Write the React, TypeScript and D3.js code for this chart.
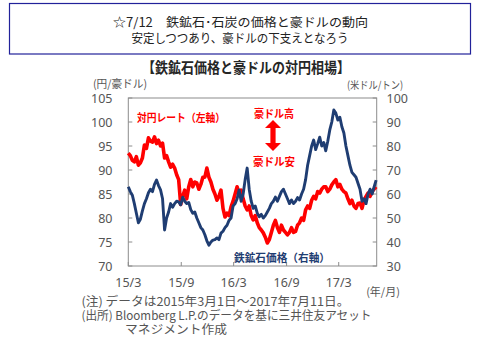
import React from "react";
import * as d3 from "d3";

const startDate = new Date(2015, 2, 1);
const endDate = new Date(2017, 6, 11);

// AUD/JPY (left axis), weekly readings from 2015-03-01
const audJpy = [
  93.5, 93.0, 92.0, 91.7, 92.8, 91.0, 91.5, 92.5, 95.2, 94.5,
  96.7, 96.0, 95.8, 96.9, 95.5, 96.2, 95.0, 95.6, 92.5, 93.0,
  91.7, 90.6, 91.2, 90.4, 89.0, 88.0, 82.8, 84.5, 85.8, 84.0,
  86.5, 88.0, 86.5, 87.5, 87.3, 86.0, 87.0, 88.5, 88.5, 90.4,
  88.5, 87.5, 86.0, 85.0, 83.7, 84.5, 85.8, 82.0, 80.2, 81.0,
  80.5, 82.3, 83.5, 85.0, 86.5, 85.0, 85.8, 84.0, 82.5, 81.7,
  82.5, 80.5, 79.6, 80.5, 79.0, 78.0, 77.5, 76.9, 76.0, 74.8,
  75.5, 77.0, 78.5, 79.5, 78.0, 77.0, 78.5, 77.5, 77.0, 76.5,
  77.0, 78.0, 77.0, 77.2, 78.5, 79.0, 80.0, 79.5, 81.7, 82.5,
  82.0, 83.7, 84.5, 84.0, 85.5, 85.2, 86.0, 86.5, 86.5, 85.5,
  86.0, 86.9, 87.5, 88.0, 86.5, 87.0, 86.0, 85.5, 85.2, 84.0,
  83.0, 83.7, 82.5, 82.0, 83.0, 83.1, 82.0, 83.7, 84.5, 85.2,
  84.5, 85.5, 86.0, 86.5,
];

// Iron ore price USD/t (right axis), weekly readings from 2015-03-01
const ironOre = [
  63, 61, 59.5, 56, 52, 48, 49.5, 53, 56, 58,
  60.5, 62, 61, 64, 65.8, 63.5, 61.7, 58, 45, 50,
  52.5, 56, 54.5, 56, 57, 56.7, 55.5, 58.7, 57, 56,
  56.5, 53.5, 52, 52.5, 50, 48, 46, 45, 43, 40.5,
  38.7, 40, 40.8, 41, 41.7, 41, 43.7, 44.5, 46, 47,
  49, 50, 55, 56, 58, 61.7, 57, 60, 66, 70.8,
  62, 57, 54, 55, 52, 50.5, 51.5, 50, 51, 52.5,
  54, 56, 57, 58.7, 57, 59, 61, 62, 60, 58,
  56, 57.5, 56, 57, 58.5, 57.5, 60, 62, 66, 72,
  76, 80, 82.5, 78.5, 81, 83.7, 80, 81.5, 78, 82,
  86.7, 90, 95, 93.7, 90.8, 92, 88, 85.4, 80, 76,
  72, 69, 68, 67, 64.5, 62, 57, 58, 56, 60,
  62, 60, 63, 65.8,
];

const leftTicks = [70, 75, 80, 85, 90, 95, 100, 105];
const rightTicks = [30, 40, 50, 60, 70, 80, 90, 100];
const xTickDates = [
  new Date(2015, 2, 1),
  new Date(2015, 8, 1),
  new Date(2016, 2, 1),
  new Date(2016, 8, 1),
  new Date(2017, 2, 1),
];
const xTickLabels = ["15/3", "15/9", "16/3", "16/9", "17/3"];

const RED = "#ff0000";
const NAVY = "#1f3d72";
const GRAY = "#555555";
const JP = "'Noto Sans CJK JP', 'Noto Sans', sans-serif";
const NUM = "'Noto Sans', 'Liberation Sans', sans-serif";

export default function App() {
  const W = 482;
  const H = 341;
  const x0 = 128.3;
  const x1 = 376.7;
  const y0 = 98;
  const y1 = 266;

  const x = d3.scaleTime().domain([startDate, endDate]).range([x0, x1]);
  const yL = d3.scaleLinear().domain([70, 105]).range([y1, y0]);
  const yR = d3.scaleLinear().domain([30, 100]).range([y1, y0]);

  const dates = audJpy.map((_, i) => d3.timeDay.offset(startDate, i * 7));

  const redLine = d3
    .line<number>()
    .x((_, i) => x(dates[i]))
    .y((d) => yL(d))
    .curve(d3.curveLinear)(audJpy) as string;

  const navyLine = d3
    .line<number>()
    .x((_, i) => x(dates[i]))
    .y((d) => yR(d))
    .curve(d3.curveLinear)(ironOre) as string;

  // double arrow
  const ax = 273;
  const ayTop = 120;
  const ayBot = 151;
  const hw = 8;
  const hh = 8;
  const sw = 2.6;
  const arrow = [
    [ax, ayTop],
    [ax + hw, ayTop + hh],
    [ax + sw, ayTop + hh],
    [ax + sw, ayBot - hh],
    [ax + hw, ayBot - hh],
    [ax, ayBot],
    [ax - hw, ayBot - hh],
    [ax - sw, ayBot - hh],
    [ax - sw, ayTop + hh],
    [ax - hw, ayTop + hh],
  ]
    .map((p) => p.join(","))
    .join(" ");

  return (
    <svg
      width={W}
      height={H}
      style={{ position: "fixed", left: 0, top: 0, background: "#fff" }}
    >
      <rect x={0} y={0} width={W} height={H} fill="#fff" />
      {/* title box */}
      <rect
        x={9.5}
        y={3.5}
        width={461}
        height={50.5}
        fill="#fff"
        stroke="#22229a"
        strokeWidth={1.2}
      />
      <text
        x={240.5}
        y={21.3}
        textAnchor="middle"
        dominantBaseline="central"
        fontFamily={JP}
        fontSize={12.5}
        fill="#222"
        textLength={255}
        lengthAdjust="spacingAndGlyphs"
      >
        ☆7/12　鉄鉱石･石炭の価格と豪ドルの動向
      </text>
      <text
        x={240}
        y={37.2}
        textAnchor="middle"
        dominantBaseline="central"
        fontFamily={JP}
        fontSize={12.5}
        fill="#222"
        textLength={217}
        lengthAdjust="spacingAndGlyphs"
      >
        安定しつつあり、豪ドルの下支えとなろう
      </text>

      {/* chart title */}
      <text
        x={246}
        y={66.5}
        textAnchor="middle"
        dominantBaseline="central"
        fontFamily={JP}
        fontSize={14.5}
        fontWeight="bold"
        fill="#262626"
        textLength={208}
        lengthAdjust="spacingAndGlyphs"
      >
        【鉄鉱石価格と豪ドルの対円相場】
      </text>

      <text
        x={93}
        y={83}
        dominantBaseline="central"
        fontFamily={JP}
        fontSize={11}
        fill={GRAY}
        textLength={54}
        lengthAdjust="spacingAndGlyphs"
      >
        (円/豪ドル)
      </text>
      <text
        x={347}
        y={84.5}
        dominantBaseline="central"
        fontFamily={JP}
        fontSize={10.5}
        fill={GRAY}
        textLength={56}
        lengthAdjust="spacingAndGlyphs"
      >
        (米ドル/トン)
      </text>

      {/* plot frame */}
      <rect
        x={x0}
        y={y0}
        width={x1 - x0}
        height={y1 - y0}
        fill="none"
        stroke="#8c8c8c"
        strokeWidth={1}
      />
      {leftTicks.map((t) => (
        <g key={"l" + t}>
          <line x1={x0} x2={x0 + 4} y1={yL(t)} y2={yL(t)} stroke="#8c8c8c" />
          <text
            x={112.5}
            y={yL(t)}
            textAnchor="end"
            dominantBaseline="central"
            fontFamily={NUM}
            fontSize={12.5}
            fill={GRAY}
          >
            {t}
          </text>
        </g>
      ))}
      {rightTicks.map((t) => (
        <g key={"r" + t}>
          <line x1={x1 - 4} x2={x1} y1={yR(t)} y2={yR(t)} stroke="#8c8c8c" />
          <text
            x={386.5}
            y={yR(t)}
            textAnchor="start"
            dominantBaseline="central"
            fontFamily={NUM}
            fontSize={12.5}
            fill={GRAY}
          >
            {t}
          </text>
        </g>
      ))}
      {xTickDates.map((d, i) => (
        <g key={"x" + i}>
          <line
            x1={x(d)}
            x2={x(d)}
            y1={y1}
            y2={y1 - 4}
            stroke="#8c8c8c"
          />
          <text
            x={x(d)}
            y={282}
            textAnchor="middle"
            dominantBaseline="central"
            fontFamily={NUM}
            fontSize={12.5}
            fill={GRAY}
          >
            {xTickLabels[i]}
          </text>
        </g>
      ))}
      <text
        x={383}
        y={291}
        textAnchor="middle"
        dominantBaseline="central"
        fontFamily={JP}
        fontSize={11}
        fill={GRAY}
      >
        (年/月)
      </text>

      {/* series */}
      <path
        d={redLine}
        fill="none"
        stroke={RED}
        strokeWidth={3.6}
        strokeLinejoin="round"
      />
      <path
        d={navyLine}
        fill="none"
        stroke={NAVY}
        strokeWidth={2.9}
        strokeLinejoin="round"
      />

      {/* annotations */}
      <text
        x={137}
        y={117}
        dominantBaseline="central"
        fontFamily={JP}
        fontSize={11}
        fontWeight="bold"
        fill={RED}
        textLength={88}
        lengthAdjust="spacingAndGlyphs"
      >
        対円レート（左軸）
      </text>
      <text
        x={274}
        y={112.5}
        textAnchor="middle"
        dominantBaseline="central"
        fontFamily={JP}
        fontSize={11}
        fontWeight="bold"
        fill={RED}
        textLength={40}
        lengthAdjust="spacingAndGlyphs"
      >
        豪ドル高
      </text>
      <polygon points={arrow} fill={RED} />
      <text
        x={274}
        y={161}
        textAnchor="middle"
        dominantBaseline="central"
        fontFamily={JP}
        fontSize={11}
        fontWeight="bold"
        fill={RED}
        textLength={42}
        lengthAdjust="spacingAndGlyphs"
      >
        豪ドル安
      </text>
      <text
        x={234}
        y={257}
        dominantBaseline="central"
        fontFamily={JP}
        fontSize={11}
        fontWeight="bold"
        fill={NAVY}
        textLength={96}
        lengthAdjust="spacingAndGlyphs"
      >
        鉄鉱石価格（右軸）
      </text>

      {/* notes */}
      <text
        x={81.5}
        y={300}
        dominantBaseline="central"
        fontFamily={JP}
        fontSize={12}
        fill={GRAY}
        textLength={268}
        lengthAdjust="spacingAndGlyphs"
      >
        (注) データは2015年3月1日～2017年7月11日。
      </text>
      <text
        x={81.5}
        y={314}
        dominantBaseline="central"
        fontFamily={JP}
        fontSize={12}
        fill={GRAY}
        textLength={290}
        lengthAdjust="spacingAndGlyphs"
      >
        (出所) Bloomberg L.P.のデータを基に三井住友アセット
      </text>
      <text
        x={125}
        y={328}
        dominantBaseline="central"
        fontFamily={JP}
        fontSize={12}
        fill={GRAY}
        textLength={102}
        lengthAdjust="spacingAndGlyphs"
      >
        マネジメント作成
      </text>
    </svg>
  );
}
